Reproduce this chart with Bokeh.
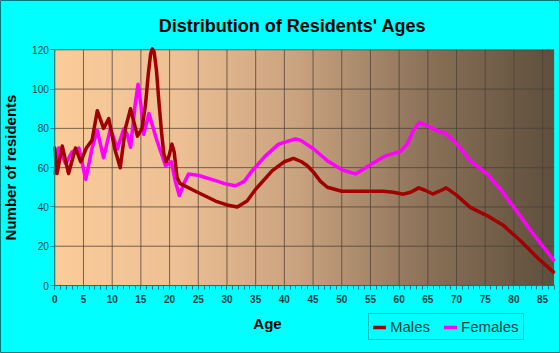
import numpy as np
from bokeh.plotting import figure
from bokeh.models import (Range1d, Legend, LegendItem, Label, FixedTicker,
                          SingleIntervalTicker)
from bokeh.embed import file_html
from bokeh.resources import INLINE

# ---- data ----
male_age = [0, 0.4, 1.3, 2.4, 3.6, 4.5, 5.5, 6.5, 7.4, 8.5, 9.4, 10.5, 11.4,
            12.3, 13.2, 14.4, 15.2, 15.8, 16.3, 16.7, 17.0, 17.3, 17.7, 18.1,
            18.6, 19.0, 19.4, 19.9, 20.4, 20.8, 21.3, 21.8, 24.5, 28, 30, 31.8,
            33.5, 35, 37.9, 40, 41.6, 43, 44, 45.1, 46.3, 47.5, 50, 55, 57.3,
            59, 60.7, 62, 63.4, 64.5, 65.9, 67, 68.2, 70, 72.4, 75.3, 78.2,
            81.1, 84, 86.9]
male_val = [70, 57, 71, 57, 70, 63, 70, 74, 89, 80, 85, 69, 60,
            80, 90, 76, 80, 92, 108, 118, 120.5, 119, 110, 95,
            78, 67, 63, 66, 72, 68, 55, 52, 48, 43, 41, 40,
            43, 49, 58.5, 63, 64.7, 63, 61, 57.6, 53, 50, 48, 48, 48,
            47.5, 46.5, 47.5, 49.7, 48.5, 46.6, 48, 49.7, 46, 39.8, 35.6, 30.5,
            22.9, 14.4, 6.8]

female_age = [0, 0.7, 1.9, 3, 4.2, 5.4, 6.5, 7.4, 8.5, 9.7, 10.9, 12, 12.6,
              13.2, 14.0, 14.5, 15.0, 15.5, 16.4, 17.8, 19.3, 20.3, 21, 21.7,
              22.5, 23.3, 25.1, 28, 30, 31.5, 33, 34.4, 36.7, 39, 41.9, 42.8,
              45.1, 47.5, 50.1, 52.4, 55, 57.6, 60.2, 61.4, 62.5, 63.5, 65.5,
              66.6, 68.1, 70.1, 72.4, 75.3, 77.6, 80, 82.9, 86.9]
female_val = [57, 70, 62, 68, 70, 54, 70, 79, 65, 80, 69.5, 79.7, 77,
              70.3, 92, 102.5, 92, 77, 87.6, 73.7, 61, 63, 53, 45.8,
              52, 56.8, 56, 53.4, 51.5, 50.8, 53, 58.5, 66, 72, 74.6, 74,
              69.5, 63.5, 58.8, 56.8, 61.5, 66, 68.2, 72, 79, 83, 80.5,
              78.8, 77.4, 72, 63.5, 56.8, 49.2, 39.8, 28, 13]

x_ticks = list(range(0, 90, 5))
y_ticks = [0, 20, 40, 60, 80, 100, 120]
title_text = "Distribution of Residents' Ages"
x_label = "Age"
y_label = "Number of residents"
series_names = ["Males", "Females"]

X_MAX, Y_MAX = 87, 120

# ---- page geometry (pixels) ----
W, H = 560, 353
PL, PR, PT, PB = 54.3, 553.6, 49.3, 285.0   # plot-area edges
sx = (PR - PL) / X_MAX
sy = (PB - PT) / Y_MAX
x0 = -PL / sx
x1 = X_MAX + (W - PR) / sx
y0 = -(H - PB) / sy
y1 = Y_MAX + PT / sy


def dx(px):
    return x0 + px / sx


def dy(py):
    return y0 + (H - py) / sy


FONT = "Liberation Sans"
BG = "#00ffff"
TEAL = "#007b7b"
TICK_TXT = "#0f3f3f"

p = figure(width=W, height=H, x_range=Range1d(x0, x1), y_range=Range1d(y0, y1),
           output_backend="svg", toolbar_location=None, title=None,
           min_border=0, border_fill_color=BG, background_fill_color=BG)
p.outline_line_color = TEAL
p.outline_line_width = 1

# ---- gradient background of the plot area ----
stops = np.array([0.0, 0.25, 0.49, 0.75, 1.0])
cols = np.array([[252, 204, 153], [238, 192, 149], [201, 162, 127],
                 [138, 113, 88], [95, 79, 61]], dtype=float)
n = 600
t = np.linspace(0, 1, n)
rgb = np.stack([np.interp(t, stops, cols[:, k]) for k in range(3)], axis=1)
img = np.empty((1, n), dtype=np.uint32)
view = img.view(dtype=np.uint8).reshape((1, n, 4))
view[0, :, 0] = rgb[:, 0].astype(np.uint8)
view[0, :, 1] = rgb[:, 1].astype(np.uint8)
view[0, :, 2] = rgb[:, 2].astype(np.uint8)
view[0, :, 3] = 255
p.image_rgba(image=[img], x=0, y=0, dw=X_MAX, dh=Y_MAX, level="image")

# ---- grid (limited to the plot area) ----
p.xgrid.visible = False
p.ygrid.visible = False
GRID = "#4a4038"
p.segment(x0=x_ticks, y0=[0] * len(x_ticks), x1=x_ticks,
          y1=[Y_MAX] * len(x_ticks), line_color=GRID, line_alpha=0.75,
          line_width=1, level="underlay")
p.segment(x0=[0] * len(y_ticks), y0=y_ticks, x1=[X_MAX] * len(y_ticks),
          y1=y_ticks, line_color=GRID, line_alpha=0.75, line_width=1,
          level="underlay")

# ---- axes (placed at the plot-area edges) ----
p.xaxis.fixed_location = 0
p.yaxis.fixed_location = 0
p.xaxis.bounds = (0, X_MAX)
p.yaxis.bounds = (0, Y_MAX)
p.xaxis.ticker = SingleIntervalTicker(interval=5, num_minor_ticks=5)
p.yaxis.ticker = FixedTicker(ticks=y_ticks)
for ax in (p.xaxis, p.yaxis):
    ax.axis_line_color = TEAL
    ax.major_tick_line_color = TEAL
    ax.minor_tick_line_color = TEAL
    ax.major_tick_in = 0
    ax.major_tick_out = 4
    ax.minor_tick_in = 0
    ax.minor_tick_out = 4
    ax.major_label_text_font = FONT
    ax.major_label_text_color = TICK_TXT
p.yaxis.minor_tick_line_color = None
p.xaxis.major_label_text_font_size = "10px"
p.xaxis.major_label_text_font_style = "bold"
p.xaxis.major_label_standoff = 5
p.yaxis.major_label_text_font_size = "10px"
p.yaxis.major_label_standoff = 2

p.yaxis.axis_label = y_label
p.yaxis.axis_label_text_font = FONT
p.yaxis.axis_label_text_font_size = "15px"
p.yaxis.axis_label_text_font_style = "bold"
p.yaxis.axis_label_text_color = "#000000"
p.yaxis.axis_label_standoff = 10

# ---- lines ----
rf = p.line(female_age, female_val, line_color="#ff00ff", line_width=3.5,
            line_join="round", line_cap="round")
rm = p.line(male_age, male_val, line_color="#a00000", line_width=3.5,
            line_join="round", line_cap="round")

# ---- title and x label ----
p.add_layout(Label(x=dx(292), y=dy(25), text=title_text, text_font=FONT,
                   text_font_size="18px", text_font_style="bold",
                   text_color="#000000", text_align="center",
                   text_baseline="middle"))
p.add_layout(Label(x=dx(267), y=dy(323), text=x_label, text_font=FONT,
                   text_font_size="15px", text_font_style="bold",
                   text_color="#000000", text_align="center",
                   text_baseline="middle"))

# ---- legend ----
legend = Legend(items=[LegendItem(label=series_names[0], renderers=[rm]),
                       LegendItem(label=series_names[1], renderers=[rf])],
                orientation="horizontal", location=(368, H - 340),
                label_text_font=FONT, label_text_font_size="15px",
                label_text_color="#0f3f3f", glyph_width=13, glyph_height=16,
                label_height=16, label_standoff=4, spacing=14, padding=4,
                margin=0, border_line_color=TEAL, border_line_width=1,
                background_fill_color=BG, background_fill_alpha=1)
p.add_layout(legend, "center")

open("out.html", "w").write(file_html(p, INLINE))
